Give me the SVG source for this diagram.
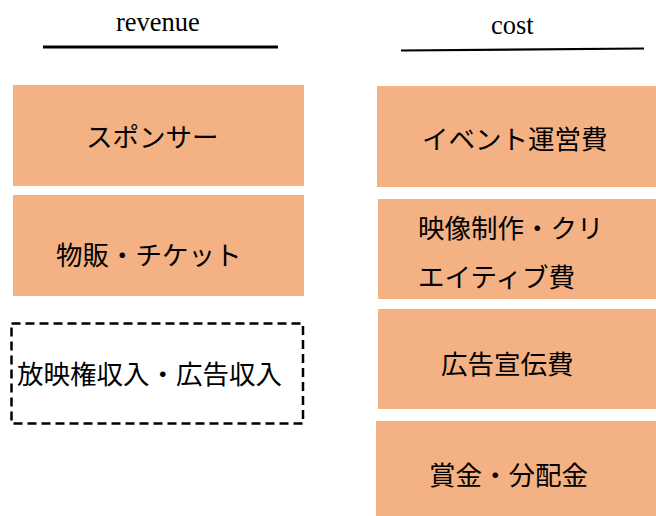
<svg xmlns="http://www.w3.org/2000/svg" width="656" height="516" viewBox="0 0 656 516">
<style>
.box{fill:#F4B183;stroke:none}
.dash{fill:none;stroke:#000;stroke-width:2.5;stroke-dasharray:9 5}
.hd{font-family:"Liberation Serif","Times New Roman",serif;font-size:26.5px;fill:#000}
.lb{font-family:"Noto Sans CJK JP","Noto Sans",sans-serif;font-size:26.5px;fill:#000;dominant-baseline:central}
</style>
<rect width="656" height="516" fill="#fff"/>
<g id="headers">
<text class="hd" x="116" y="31">revenue</text>
<line x1="43" y1="47" x2="278" y2="47" stroke="#000" stroke-width="3"/>
<text class="hd" x="491" y="34">cost</text>
<line x1="401" y1="50.5" x2="644" y2="48.5" stroke="#000" stroke-width="2.2"/>
</g>
<g id="n-sponsor"><rect class="box" x="13" y="85" width="291" height="101"/><text class="lb" x="86" y="135">スポンサー</text></g>
<g id="n-goods"><rect class="box" x="13" y="195" width="291" height="101"/><text class="lb" x="56" y="253">物販・チケット</text></g>
<g id="n-broadcast"><rect class="dash" x="11.5" y="323.5" width="291.5" height="100"/><text class="lb" x="17" y="372">放映権収入・広告収入</text></g>
<g id="n-event"><rect class="box" x="377" y="86" width="279" height="101"/><text class="lb" x="422" y="137">イベント運営費</text></g>
<g id="n-video"><rect class="box" x="378" y="199" width="278" height="100"/><text class="lb" x="418" y="226">映像制作・クリ</text><text class="lb" x="418" y="275">エイティブ費</text></g>
<g id="n-ad"><rect class="box" x="378" y="309" width="278" height="100"/><text class="lb" x="441" y="362">広告宣伝費</text></g>
<g id="n-prize"><rect class="box" x="376" y="421" width="280" height="95"/><text class="lb" x="429" y="473">賞金・分配金</text></g>
<g id="connectors"></g>
</svg>
